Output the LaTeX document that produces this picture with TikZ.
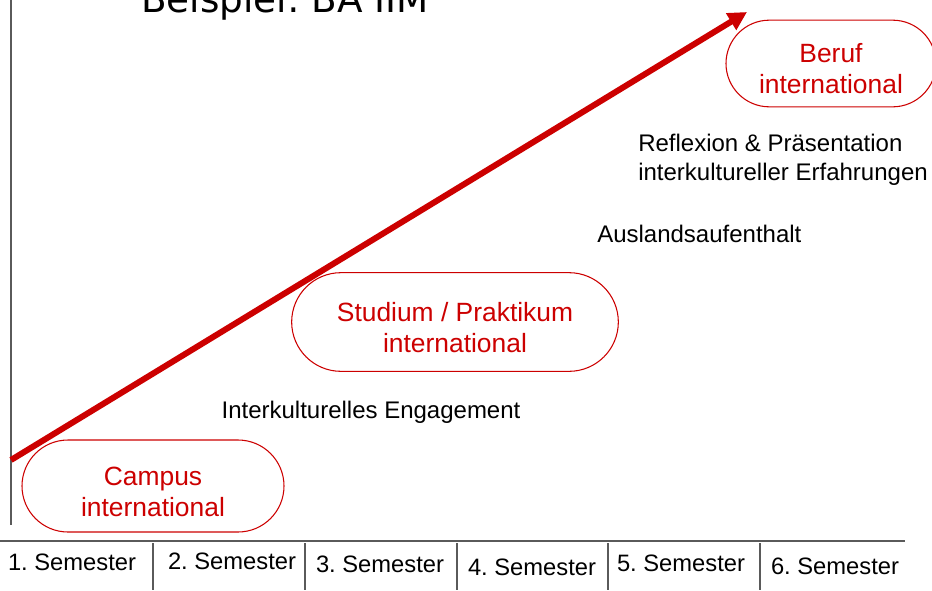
\documentclass[tikz,border=0pt]{standalone}
\usepackage{fontspec}
\setmainfont{Liberation Sans}
\newfontfamily\titlefont{DejaVu Sans}
\usetikzlibrary{shapes.misc,arrows.meta}
\definecolor{phasered}{RGB}{204,0,0}
\definecolor{rulegray}{RGB}{90,90,90}
\newcommand{\lowerstrut}{\rule{0pt}{22pt}}
\tikzset{
  phase/.style={rounded rectangle, draw=phasered, line width=0.8pt, text=phasered,
    align=center, inner sep=0pt, font=\fontsize{19.8}{23.25}\selectfont},
  steplabel/.style={anchor=base, inner sep=0pt, font=\fontsize{18}{21.75}\selectfont},
  semlabel/.style={anchor=base, inner sep=0pt, font=\fontsize{17.8}{21}\selectfont},
  rulesep/.style={draw=rulegray, line width=1.1pt}
}
\frenchspacing
\begin{document}
\begin{tikzpicture}[x=0.75pt,y=-0.75pt]
\useasboundingbox (0,0) rectangle (932,590);

% title, cut off at the top of the page
\node[anchor=base west, inner sep=0pt, font=\titlefont\fontsize{28}{30}\selectfont] (title) at (141,12.5) {Beispiel: BA IIM};

% axes
\draw[rulesep] (11,0) -- (11,525);
\draw[rulesep] (0,541) -- (905,541);

% semester columns
\draw[rulesep] (153,543) -- (153,590);
\draw[rulesep] (305,543) -- (305,590);
\draw[rulesep] (457,543) -- (457,590);
\draw[rulesep] (608,543) -- (608,590);
\draw[rulesep] (760,543) -- (760,590);

\node[semlabel] (sem1) at (72,570) {1. Semester};
\node[semlabel] (sem2) at (232,569) {2. Semester};
\node[semlabel] (sem3) at (380,572) {3. Semester};
\node[semlabel] (sem4) at (532,575) {4. Semester};
\node[semlabel] (sem5) at (681,571) {5. Semester};
\node[semlabel] (sem6) at (835,574) {6. Semester};

% phases
\node[phase, minimum width=196.5pt, minimum height=69pt] (campus) at (153,486) {\lowerstrut Campus\\international};
\node[phase, minimum width=245pt, minimum height=74pt] (studium) at (455,322) {\lowerstrut Studium / Praktikum\\international};
\node[phase, minimum width=157.5pt, minimum height=65pt] (beruf) at (831,63.5) {\lowerstrut Beruf\\international};

% steps in between
\node[steplabel] (engagement) at (371,418) {Interkulturelles Engagement};
\node[steplabel, anchor=base west] (ausland) at (597,242) {Auslandsaufenthalt};
\node[steplabel, anchor=base west] (reflexion) at (638,151) {Reflexion \& Präsentation};
\node[steplabel, anchor=base west] (erfahrung) at (638,180) {interkultureller Erfahrungen};

% growth arrow
\coordinate (start) at (11,460);
\coordinate (goal) at (747,12);
\draw[phasered, line width=4.5pt, -{Triangle[length=14pt,width=14pt]}] (start) -- (goal);
\end{tikzpicture}
\end{document}
